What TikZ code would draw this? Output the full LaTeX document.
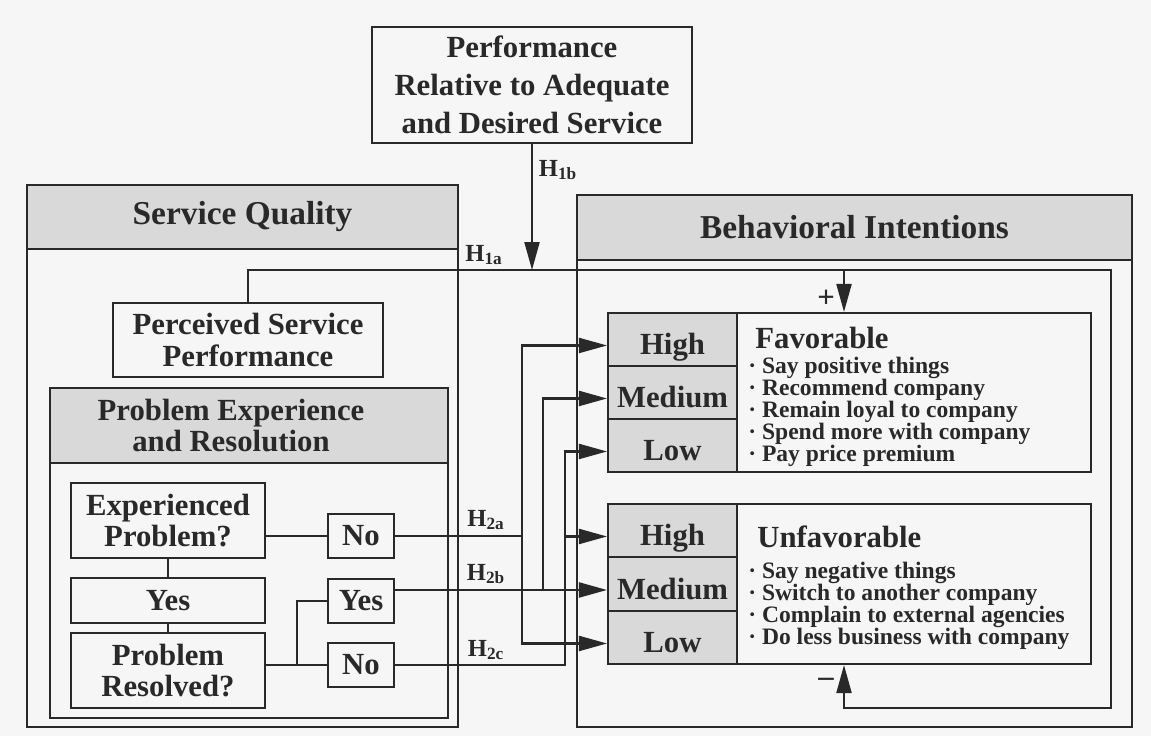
\documentclass[tikz,border=0pt]{standalone}
\usepackage{fontspec}
\setmainfont{Liberation Serif}
\usepackage{xcolor}
\usetikzlibrary{arrows.meta, positioning}
\definecolor{paper}{gray}{0.965}
\definecolor{shade}{gray}{0.85}
\definecolor{ink}{gray}{0.16}

\begin{document}
\begin{tikzpicture}[x=0.02cm, y=-0.02cm,
    every node/.style={text=ink, font=\bfseries\fontsize{17.5}{18}\selectfont},
    box/.style={draw=ink, line width=1.2pt, fill=paper, inner sep=0pt, align=center},
    head/.style={box, fill=shade},
    level/.style={head, minimum width=2.58cm, minimum height=1.065cm, text height=17.6pt, text depth=0pt},
    big/.style={font=\bfseries\fontsize{19}{23}\selectfont},
    items/.style={align=left, anchor=west, inner sep=0pt, font={\bfseries\fontsize{13.4}{12.5}\selectfont\lineskiplimit -8pt\relax}},
    link/.style={draw=ink, line width=1.2pt},
    arr/.style={link, -{Triangle[length=0.56cm, width=0.3cm]}},
    lab/.style={font=\bfseries\fontsize{14}{14}\selectfont}]

    % Sfondo
    \useasboundingbox (0,0) rectangle (1151,736);
    \fill[paper] (0,0) rectangle (1151,736);

    % Performance
    \node[box, minimum width=6.4cm, minimum height=2.32cm, font=\bfseries\fontsize{17.5}{21.6}\selectfont] (perf) at (532,85) {Performance\\Relative to Adequate\\and Desired Service};

    % Service Quality
    \node[box, minimum width=8.62cm, minimum height=10.84cm] (sq) at (242.5,456) {};
    \node[head, big, minimum width=8.62cm, minimum height=1.28cm] (sqhead) at (242.5,217) {Service Quality};
    \node[box, minimum width=5.4cm, minimum height=1.48cm] (perc) at (248,340) {Perceived Service\\Performance};
    \node[box, minimum width=7.96cm, minimum height=6.6cm] (pe) at (249,553) {};
    \node[head, minimum width=7.96cm, minimum height=1.5cm] (pehead) at (249,425.5) {};
    \node[align=center] (petext) at (231,425.5) {Problem Experience\\and Resolution};
    \node[box, minimum width=3.88cm, minimum height=1.5cm] (ep) at (168,520.5) {Experienced\\Problem?};
    \node[box, minimum width=3.88cm, minimum height=0.9cm] (yesA) at (168,600.5) {Yes};
    \node[box, minimum width=3.88cm, minimum height=1.5cm] (pr) at (168,670.5) {Problem\\Resolved?};
    \node[box, minimum width=1.32cm, minimum height=0.88cm] (noA) at (361,536) {No};
    \node[box, minimum width=1.32cm, minimum height=0.88cm] (yesB) at (361,601) {Yes};
    \node[box, minimum width=1.32cm, minimum height=0.88cm] (noB) at (361,665) {No};

    % Behavioral Intentions
    \node[box, minimum width=11.1cm, minimum height=10.64cm] (bi) at (854.5,461) {};
    \node[head, big, minimum width=11.1cm, minimum height=1.3cm] (bihead) at (854.5,227.5) {Behavioral Intentions};

    \node[box, minimum width=9.66cm, minimum height=3.18cm] (fav) at (849.5,392.5) {};
    \node[level] (fhigh) at (672.5,339.5) {High};
    \node[level] (fmed) at (672.5,392.5) {Medium};
    \node[level] (flow) at (672.5,445.5) {Low};
    \node[anchor=west, inner sep=0pt] (favT) at (755,338) {Favorable};
    \node[items] (favL) at (748,412) {· Say positive things\\· Recommend company\\· Remain loyal to company\\· Spend more with company\\· Pay price premium};

    \node[box, minimum width=9.66cm, minimum height=3.2cm] (unf) at (849.5,584) {};
    \node[level] (uhigh) at (672.5,530.5) {High};
    \node[level] (umed) at (672.5,584) {Medium};
    \node[level] (ulow) at (672.5,637.5) {Low};
    \node[anchor=west, inner sep=0pt] (unfT) at (757,537) {Unfavorable};
    \node[items] (unfL) at (748,606) {· Say negative things\\· Switch to another company\\· Complain to external agencies\\· Do less business with company};

    % Punti
    \coordinate (xa) at (522,0);
    \coordinate (xb) at (543,0);
    \coordinate (xc) at (565,0);
    \coordinate (xpm) at (844,0);
    \coordinate (loopTR) at (1111,270);
    \coordinate (loopBR) at (1111,708);
    \coordinate (br) at (297,665);
    \coordinate (fh) at ([yshift=-3.4pt]fhigh.west);
    \coordinate (fm) at ([yshift=-3.4pt]fmed.west);
    \coordinate (fl) at ([yshift=-3.4pt]flow.west);
    \coordinate (uh) at ([yshift=-3.4pt]uhigh.west);
    \coordinate (um) at ([yshift=-3.4pt]umed.west);
    \coordinate (ul) at ([yshift=-3.4pt]ulow.west);

    % Problemi
    \draw[link] (ep.east |- noA.west) -- (noA.west);
    \draw[link] (ep) -- (yesA);
    \draw[link] (yesA) -- (pr);
    \draw[link] (pr.east |- noB.west) -- (noB.west);
    \draw[link] (br) |- (yesB.west);

    % H1
    \draw[arr] (perf.south) -- (perf.south |- loopTR);
    \draw[arr] (perc.north) |- (loopTR) -- (loopBR) -| (xpm |- unf.south);
    \draw[arr] (xpm |- loopTR) -- (xpm |- fav.north);

    % H2
    \draw[arr] (noA.east) -| (xa |- fh) -- (fh);
    \draw[arr] (noA.east) -| (xa |- ul) -- (ul);
    \draw[arr] (yesB.east |- um) -- (um);
    \draw[arr] (xb |- um) -- (xb |- fm) -- (fm);
    \draw[arr] (noB.east) -| (xc |- fl) -- (fl);
    \draw[arr] (xc |- uh) -- (uh);

    % Etichette
    \node[lab] (h1b) at (558,170) {H\textsubscript{1b}};
    \node[lab] (h1a) at (484,255) {H\textsubscript{1a}};
    \node[lab] (h2a) at (486,520) {H\textsubscript{2a}};
    \node[lab] (h2b) at (486,574) {H\textsubscript{2b}};
    \node[lab] (h2c) at (486,650) {H\textsubscript{2c}};
    \node (plus) at (826,299) {+};
    \node (minus) at (826,682) {--};
\end{tikzpicture}
\end{document}
